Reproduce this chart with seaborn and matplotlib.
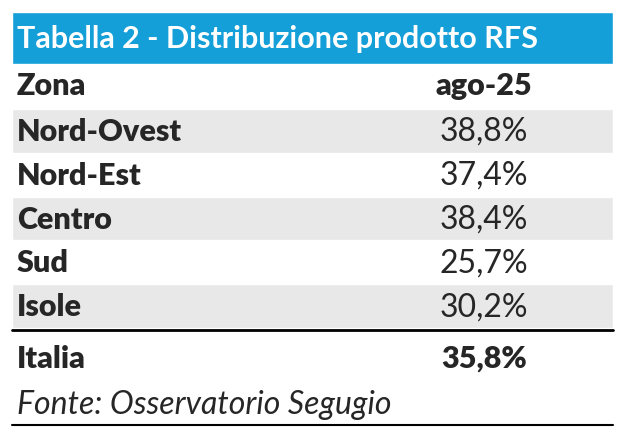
import matplotlib
matplotlib.use("Agg")
import matplotlib.pyplot as plt
import seaborn as sns

sns.set_theme(style="white")
plt.rcParams["font.family"] = ["Lato", "DejaVu Sans"]

# =====================================================
# TABLE DATA
# =====================================================
title = "Tabella 2 - Distribuzione prodotto RFS"
col_zone = "Zona"
col_period = "ago-25"
zones = ["Nord-Ovest", "Nord-Est", "Centro", "Sud", "Isole"]
shares = [38.8, 37.4, 38.4, 25.7, 30.2]
total_label = "Italia"
total_share = 35.8
source = "Fonte: Osservatorio Segugio"

def fmt(v):
    return f"{v:.1f}%".replace(".", ",")

# =====================================================
# LAYOUT (pixel coordinates)
# =====================================================
W, H = 629, 436
X0, X1 = 12, 613
LABEL_X = 17
VALUE_X = 484
BLUE = "#149fd8"
GREY = "#e8e8e8"
FSB = 22      # bold text
FSR = 23      # regular text
BOLD = "heavy"

fig = plt.figure(figsize=(W / 100, H / 100), dpi=100)
ax = fig.add_axes([0, 0, 1, 1])
ax.set_xlim(0, W)
ax.set_ylim(H, 0)
ax.axis("off")

# title bar
ax.barh(38, X1 - X0, height=52, left=X0, color=BLUE)
ax.text(LABEL_X, 39, title, color="white", fontsize=FSB, fontweight="bold",
        va="center", ha="left")

# header
ax.text(LABEL_X, 86, col_zone, fontsize=FSB, fontweight=BOLD, va="center")
ax.text(VALUE_X, 86, col_period, fontsize=FSB, fontweight=BOLD, va="center", ha="center")

# body rows
row_top = 109
row_h = 43.8
for i, (z, v) in enumerate(zip(zones, shares)):
    yc = row_top + row_h * (i + 0.5)
    if i % 2 == 0:
        ax.barh(yc, X1 - X0, height=row_h, left=X0, color=GREY)
    ax.text(LABEL_X, yc + 1, z, fontsize=FSB, fontweight=BOLD, va="center")
    ax.text(VALUE_X, yc + 1, fmt(v), fontsize=FSR, va="center", ha="center")

ax.plot([X0, X1], [329.5, 329.5], color="black", lw=2)

# total
ax.text(LABEL_X, 359, total_label, fontsize=FSB, fontweight=BOLD, va="center")
ax.text(VALUE_X, 359, fmt(total_share), fontsize=FSB, fontweight=BOLD, va="center", ha="center")

# source
ax.text(LABEL_X, 405, source, fontsize=FSR, fontstyle="italic", va="center")
ax.plot([X0, X1], [424.5, 424.5], color="black", lw=1.5)

fig.savefig("out.png", dpi=100)
